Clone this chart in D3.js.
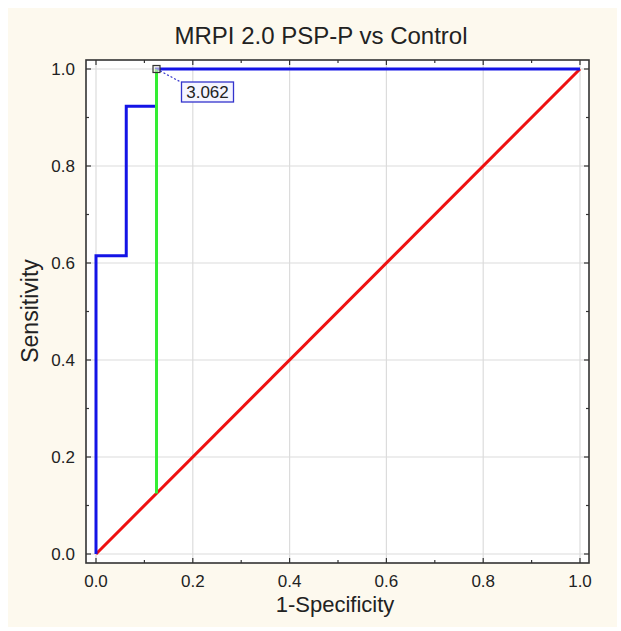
<head>
<script src="https://d3js.org/d3.v7.min.js" charset="utf-8"></script>
</head>
<body style="margin:0;background:#fff;">
<div id="chart"></div>
<script>
// ROC data
const rocFpr  = [0, 0, 0.0625, 0.0625, 0.125, 0.125, 1];
const rocSens = [0, 0.615, 0.615, 0.923, 0.923, 1, 1];
const refX = [0, 1];
const refY = [0, 1];
const cutFpr = [0.125, 0.125];
const cutSens = [0.125, 1];
const cutLabel = "3.062";
const ticks = [0, 0.2, 0.4, 0.6, 0.8, 1.0];
const minorTicks = [0.1, 0.3, 0.5, 0.7, 0.9];

const width = 621, height = 631;
const svg = d3.select("#chart").append("svg")
    .attr("width", width).attr("height", height)
    .style("font-family", "Arial, 'Liberation Sans', sans-serif");

svg.append("rect").attr("x", 8).attr("y", 8)
    .attr("width", 609).attr("height", 619).attr("fill", "#fdf9ee");

const x = d3.scaleLinear().domain([0, 1]).range([96, 580]);
const y = d3.scaleLinear().domain([0, 1]).range([554, 69]);
const frame = {x0: 86, x1: 589, y0: 60, y1: 563};

svg.append("rect").attr("x", frame.x0).attr("y", frame.y0)
    .attr("width", frame.x1 - frame.x0).attr("height", frame.y1 - frame.y0)
    .attr("fill", "#fff");

// grid
svg.append("g").selectAll("line").data(ticks).join("line")
    .attr("x1", d => x(d)).attr("x2", d => x(d))
    .attr("y1", frame.y0).attr("y2", frame.y1)
    .attr("stroke", "#dcdcdc").attr("stroke-width", 1.2);
svg.append("g").selectAll("line").data(ticks).join("line")
    .attr("y1", d => y(d)).attr("y2", d => y(d))
    .attr("x1", frame.x0).attr("x2", frame.x1)
    .attr("stroke", "#dcdcdc").attr("stroke-width", 1.2);

// ticks (inward, all four sides)
const tk = svg.append("g").attr("stroke", "#333").attr("stroke-width", 1.2);
const allT = ticks.map(v => ({v, len: 5})).concat(minorTicks.map(v => ({v, len: 3})));
allT.forEach(t => {
  tk.append("line").attr("x1", x(t.v)).attr("x2", x(t.v)).attr("y1", frame.y1).attr("y2", frame.y1 - t.len);
  tk.append("line").attr("x1", x(t.v)).attr("x2", x(t.v)).attr("y1", frame.y0).attr("y2", frame.y0 + t.len);
  tk.append("line").attr("y1", y(t.v)).attr("y2", y(t.v)).attr("x1", frame.x0).attr("x2", frame.x0 + t.len);
  tk.append("line").attr("y1", y(t.v)).attr("y2", y(t.v)).attr("x1", frame.x1).attr("x2", frame.x1 - t.len);
});

// tick labels
svg.append("g").selectAll("text").data(ticks).join("text")
    .attr("x", d => x(d)).attr("y", 587)
    .attr("text-anchor", "middle").attr("font-size", 17).attr("fill", "#222")
    .text(d => d.toFixed(1));
svg.append("g").selectAll("text").data(ticks).join("text")
    .attr("x", 75).attr("y", d => y(d) + 6)
    .attr("text-anchor", "end").attr("font-size", 17).attr("fill", "#222")
    .text(d => d.toFixed(1));

const line = d3.line().x(d => x(d[0])).y(d => y(d[1]));

svg.append("path").datum(d3.zip(refX, refY)).attr("d", line)
    .attr("fill", "none").attr("stroke", "#ee1111").attr("stroke-width", 3);
svg.append("path").datum(d3.zip(rocFpr, rocSens)).attr("d", line)
    .attr("fill", "none").attr("stroke", "#1414e6").attr("stroke-width", 3);
svg.append("path").datum(d3.zip(cutFpr, cutSens)).attr("d", line)
    .attr("fill", "none").attr("stroke", "#33ee33").attr("stroke-width", 3);

// frame
svg.append("rect").attr("x", frame.x0).attr("y", frame.y0)
    .attr("width", frame.x1 - frame.x0).attr("height", frame.y1 - frame.y0)
    .attr("fill", "none").attr("stroke", "#333").attr("stroke-width", 1.6);

// cutoff marker + label
const mx = x(cutFpr[1]), my = y(cutSens[1]);
svg.append("line").attr("x1", mx).attr("y1", my).attr("x2", mx + 26).attr("y2", my + 14)
    .attr("stroke", "#3333cc").attr("stroke-width", 1.2).attr("stroke-dasharray", "2 2");
svg.append("rect").attr("x", mx - 3.5).attr("y", my - 3.5).attr("width", 7).attr("height", 7)
    .attr("fill", "#e8e8e0").attr("fill-opacity", 0.6).attr("stroke", "#333").attr("stroke-width", 1.2);
svg.append("rect").attr("x", mx + 25).attr("y", my + 13).attr("width", 52).attr("height", 20)
    .attr("fill", "#f4f4ff").attr("stroke", "#3333cc").attr("stroke-width", 1.3);
svg.append("text").attr("x", mx + 51).attr("y", my + 29)
    .attr("text-anchor", "middle").attr("font-size", 17).attr("fill", "#222")
    .text(cutLabel);

// titles
svg.append("text").attr("x", 321).attr("y", 44).attr("text-anchor", "middle")
    .attr("font-size", 24).attr("fill", "#222").text("MRPI 2.0 PSP-P vs Control");
svg.append("text").attr("x", 335).attr("y", 612).attr("text-anchor", "middle")
    .attr("font-size", 22).attr("fill", "#222").text("1-Specificity");
svg.append("text").attr("transform", "translate(38,311) rotate(-90)").attr("text-anchor", "middle")
    .attr("font-size", 23).attr("fill", "#222").text("Sensitivity");
</script>
</body>
